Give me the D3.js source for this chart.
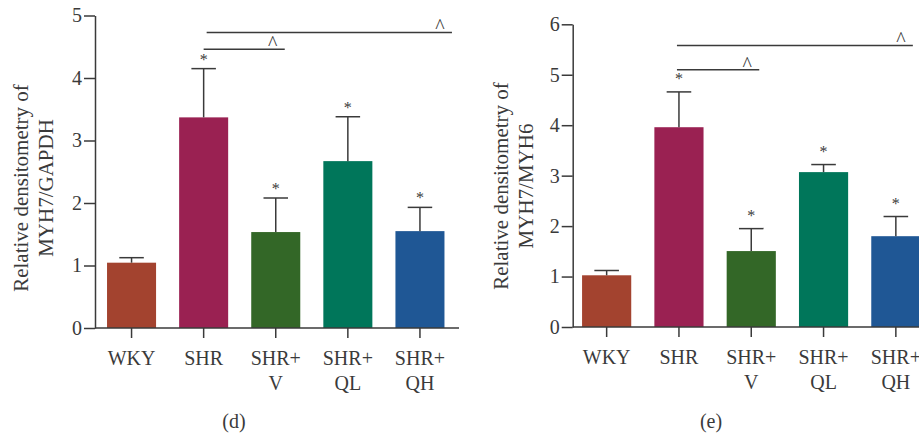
<!DOCTYPE html>
<html>
<head>
<meta charset="utf-8">
<script src="https://cdn.jsdelivr.net/npm/d3@7"></script>
<style>
  body { margin: 0; background: #fff; }
  svg { display: block; font-family: "Liberation Serif", "DejaVu Serif", serif; }
</style>
</head>
<body>
<div id="chart"></div>
<script>
// groups on the x axis (second line after "\n")
var groups = ["WKY", "SHR", "SHR+\nV", "SHR+\nQL", "SHR+\nQH"];
var groupColors = ["#a3432f", "#9a2152", "#336727", "#00765a", "#1f5795"];

// (d) MYH7/GAPDH
var gapdhMean = [1.045, 3.37, 1.535, 2.67, 1.55];
var gapdhErr  = [0.08, 0.78, 0.545, 0.71, 0.38];
var gapdhTicks = [0, 1, 2, 3, 4, 5];

// (e) MYH7/MYH6
var myh6Mean = [1.025, 3.96, 1.505, 3.07, 1.80];
var myh6Err  = [0.095, 0.70, 0.445, 0.15, 0.39];
var myh6Ticks = [0, 1, 2, 3, 4, 5, 6];

// * vs WKY
var sigMarks = ["", "*", "*", "*", "*"];

// ^ vs SHR, bar heights in data units
var gapdhComp = [["SHR", "SHR+\nV", 4.46], ["SHR", "SHR+\nQH", 4.73]];
var myh6Comp  = [["SHR", "SHR+\nV", 5.1], ["SHR", "SHR+\nQH", 5.58]];

var width = 919, height = 436;
var ink = "#3a3a3a";

var svg = d3.select("#chart").append("svg")
    .attr("width", width)
    .attr("height", height);

function drawPanel(opt) {
    var g = svg.append("g");

    var y = d3.scaleLinear().domain(opt.yDomain).range([opt.y0, opt.yTop]);
    var x = d3.scaleBand().domain(groups)
        .range([opt.xStart, opt.xStart + opt.step * groups.length])
        .paddingInner(0.32).paddingOuter(0.16);
    var bw = x.bandwidth();
    var cx = function(k) { return x(k) + bw / 2; };

    // bars
    g.selectAll("rect.bar")
        .data(opt.mean)
        .enter().append("rect")
        .attr("class", "bar")
        .attr("x", function(d, i) { return x(groups[i]); })
        .attr("y", function(d) { return y(d); })
        .attr("width", bw)
        .attr("height", function(d) { return y(0) - y(d); })
        .attr("fill", function(d, i) { return groupColors[i]; });

    // error bars (upper only)
    var eb = g.selectAll("g.err")
        .data(opt.mean)
        .enter().append("g")
        .attr("class", "err")
        .attr("stroke", ink)
        .attr("stroke-width", 1.5);
    eb.append("line")
        .attr("x1", function(d, i) { return cx(groups[i]); })
        .attr("x2", function(d, i) { return cx(groups[i]); })
        .attr("y1", function(d) { return y(d); })
        .attr("y2", function(d, i) { return y(d + opt.err[i]); });
    eb.append("line")
        .attr("x1", function(d, i) { return cx(groups[i]) - bw / 4; })
        .attr("x2", function(d, i) { return cx(groups[i]) + bw / 4; })
        .attr("y1", function(d, i) { return y(d + opt.err[i]); })
        .attr("y2", function(d, i) { return y(d + opt.err[i]); });

    // stars
    g.selectAll("text.sig")
        .data(opt.mean)
        .enter().append("text")
        .attr("class", "sig")
        .attr("x", function(d, i) { return cx(groups[i]); })
        .attr("y", function(d, i) { return y(d + opt.err[i]) - opt.starGap; })
        .attr("text-anchor", "middle")
        .attr("font-size", 16)
        .attr("fill", ink)
        .text(function(d, i) { return sigMarks[i]; });

    // comparison lines with ^
    opt.comp.forEach(function(c, k) {
        var x1 = cx(c[0]) + opt.compStart[k];
        var x2 = cx(c[1]) + opt.compExt[k];
        g.append("line")
            .attr("x1", x1).attr("x2", x2)
            .attr("y1", y(c[2])).attr("y2", y(c[2]))
            .attr("stroke", ink)
            .attr("stroke-width", 1.5);
        g.append("text")
            .attr("x", x2 - 12)
            .attr("y", y(c[2]) + 1)
            .attr("text-anchor", "middle")
            .attr("font-size", 20)
            .attr("fill", ink)
            .text("^");
    });

    // y axis
    var yAxis = g.append("g")
        .attr("transform", "translate(" + opt.axisX + ",0)")
        .call(d3.axisLeft(y).tickValues(opt.ticks).tickFormat(d3.format("d"))
            .tickSize(11).tickSizeOuter(0).tickPadding(2));
    yAxis.selectAll("path, line").attr("stroke", ink).attr("stroke-width", 1.5);
    yAxis.selectAll("text").attr("font-size", 20).attr("fill", ink)
        .attr("font-family", "Liberation Serif");

    // x axis
    var xAxis = g.append("g")
        .attr("transform", "translate(0," + opt.y0 + ")")
        .call(d3.axisBottom(x).tickSize(10).tickSizeOuter(0).tickFormat(""));
    xAxis.select(".domain").remove();
    xAxis.selectAll("line").attr("stroke", ink).attr("stroke-width", 1.5);
    g.append("line")
        .attr("x1", opt.axisX).attr("x2", opt.xEnd)
        .attr("y1", opt.y0).attr("y2", opt.y0)
        .attr("stroke", ink).attr("stroke-width", 1.5);

    // category labels, two lines
    var lab = g.selectAll("text.cat")
        .data(groups)
        .enter().append("text")
        .attr("class", "cat")
        .attr("text-anchor", "middle")
        .attr("font-size", 20)
        .attr("fill", ink);
    lab.each(function(d) {
        var t = d3.select(this);
        d.split("\n").forEach(function(part, j) {
            t.append("tspan")
                .attr("x", cx(d))
                .attr("y", opt.y0 + 37 + j * 25)
                .text(part);
        });
    });

    // y title, two lines
    opt.yTitle.forEach(function(line, j) {
        g.append("text")
            .attr("transform", "translate(" + (opt.titleX + j * 24.4) + "," + opt.titleY + ") rotate(-90)")
            .attr("text-anchor", "middle")
            .attr("font-size", 21)
            .attr("fill", ink)
            .text(line);
    });

    // panel letter
    g.append("text")
        .attr("x", opt.letterX)
        .attr("y", 428)
        .attr("text-anchor", "middle")
        .attr("font-size", 20)
        .attr("fill", ink)
        .text(opt.letter);
}

drawPanel({
    mean: gapdhMean, err: gapdhErr, ticks: gapdhTicks, comp: gapdhComp,
    yDomain: [0, 5], y0: 328, yTop: 15.5,
    xStart: 95.5, step: 72.1, axisX: 95, xEnd: 459,
    starGap: 4, compStart: [0, 3], compExt: [9, 32],
    yTitle: ["Relative densitometry of", "MYH7/GAPDH"],
    titleX: 28.3, titleY: 188,
    letter: "(d)", letterX: 234
});

drawPanel({
    mean: myh6Mean, err: myh6Err, ticks: myh6Ticks, comp: myh6Comp,
    yDomain: [0, 6], y0: 327, yTop: 24.3,
    xStart: 570.5, step: 72.3, axisX: 572.7, xEnd: 930,
    starGap: 8, compStart: [-2, -2], compExt: [8, 17],
    yTitle: ["Relative densitometry of", "MYH7/MYH6"],
    titleX: 508.3, titleY: 186,
    letter: "(e)", letterX: 711
});
</script>
</body>
</html>
